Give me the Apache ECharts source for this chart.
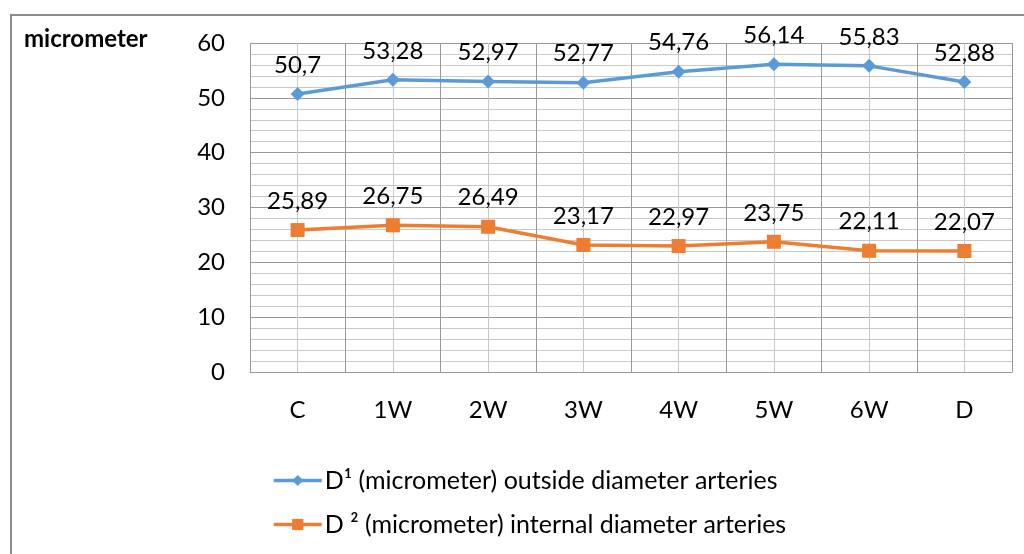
<!DOCTYPE html>
<html>
<head>
<meta charset="utf-8">
<script src="https://cdn.jsdelivr.net/npm/echarts@6/dist/echarts.min.js"></script>
<style>html,body{margin:0;padding:0;background:#fff;}#c{width:1024px;height:554px;}</style>
</head>
<body>
<div id="c"></div>
<script>
const categories = ['C', '1W', '2W', '3W', '4W', '5W', '6W', 'D'];
const outsideDiameter = [50.7, 53.28, 52.97, 52.77, 54.76, 56.14, 55.83, 52.88];
const internalDiameter = [25.89, 26.75, 26.49, 23.17, 22.97, 23.75, 22.11, 22.07];
const seriesNames = ['D\u00b9 (micrometer) outside diameter arteries', 'D \u00b2 (micrometer) internal diameter arteries'];
const yTitle = 'micrometer';

const FONT = 'Lato, "Open Sans", sans-serif';
const FS = 24;
const fmt = p => String(p.value).replace('.', ',');

const chart = echarts.init(document.getElementById('c'));
chart.setOption({
  animation: false,
  textStyle: { fontFamily: FONT },
  graphic: [
    { type: 'rect', shape: { x: 11, y: 15, width: 1040, height: 600 }, style: { fill: 'none', stroke: '#8c8c8c', lineWidth: 2 }, silent: true },
    { type: 'text', left: 24, top: 27, style: { text: yTitle, font: 'bold 24px ' + FONT, fill: '#000' } }
  ],
  grid: { left: 250, top: 43, right: 12, bottom: 182 },
  legend: {
    orient: 'vertical', left: 272, top: 468, padding: 0, itemWidth: 48, itemHeight: 14, itemGap: 19,
    lineStyle: { width: 3.5 },
    textStyle: { fontSize: 25, color: '#000', fontFamily: FONT, padding: [0, 0, 0, -2] },
    data: seriesNames
  },
  xAxis: [
    {
      type: 'category', data: categories, boundaryGap: true, z: 2,
      axisLine: { show: true, lineStyle: { color: '#999', width: 1 } },
      axisTick: { show: false },
      axisLabel: { fontSize: FS, color: '#000', margin: 26, fontFamily: FONT },
      splitLine: { show: true, lineStyle: { color: '#999', width: 1 } }
    },
    {
      type: 'value', min: 0, max: 16, interval: 1, position: 'top', z: 0,
      axisLine: { show: false }, axisTick: { show: false }, axisLabel: { show: false },
      splitLine: { show: true, lineStyle: { color: '#c8c8c8', width: 1 } }
    }
  ],
  yAxis: {
    type: 'value', min: 0, max: 60, interval: 10,
    axisLine: { show: false }, axisTick: { show: false },
    axisLabel: { fontSize: FS, color: '#000', margin: 25, fontFamily: FONT },
    splitLine: { show: true, lineStyle: { color: '#999', width: 1 } },
    minorTick: { show: false, splitNumber: 5 },
    minorSplitLine: { show: true, lineStyle: { color: '#c8c8c8', width: 1 } }
  },
  series: [
    {
      name: seriesNames[0], type: 'line', data: outsideDiameter, xAxisIndex: 0,
      symbol: 'diamond', symbolSize: 14,
      lineStyle: { color: '#5B9BD5', width: 3.5 },
      itemStyle: { color: '#5B9BD5' },
      label: { show: true, position: 'top', distance: 10, fontSize: FS, color: '#000', fontFamily: FONT, formatter: fmt }
    },
    {
      name: seriesNames[1], type: 'line', data: internalDiameter, xAxisIndex: 0,
      symbol: 'rect', symbolSize: 14,
      lineStyle: { color: '#ED7D31', width: 3.5 },
      itemStyle: { color: '#ED7D31' },
      label: { show: true, position: 'top', distance: 10, fontSize: FS, color: '#000', fontFamily: FONT, formatter: fmt }
    }
  ]
});
</script>
</body>
</html>
